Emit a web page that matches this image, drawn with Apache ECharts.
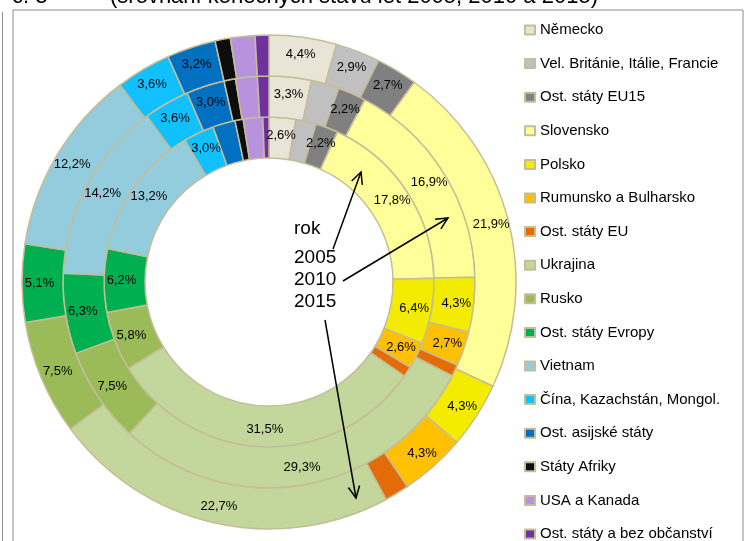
<!DOCTYPE html>
<html>
<head>
<meta charset="utf-8">
<title>Cizinci podle občanství</title>
<script src="https://cdn.jsdelivr.net/npm/echarts@6/dist/echarts.min.js"></script>
<style>
  html, body { margin: 0; padding: 0; background: #fff; }
  #chart { width: 750px; height: 541px; }
</style>
</head>
<body>
<div id="chart"></div>
<script>
const categories = [
  'Německo', 'Vel. Británie, Itálie, Francie', 'Ost. státy EU15', 'Slovensko',
  'Polsko', 'Rumunsko a Bulharsko', 'Ost. státy EU', 'Ukrajina', 'Rusko',
  'Ost. státy Evropy', 'Vietnam', 'Čína, Kazachstán, Mongol.', 'Ost. asijské státy',
  'Státy Afriky', 'USA a Kanada', 'Ost. státy a bez občanství'
]
// podíly v % (konečné stavy)
const values2005 = [2.6, 2.0, 2.2, 17.8, 6.4, 2.6, 1.0, 31.5, 5.8, 6.2, 13.2, 3.0, 2.2, 0.8, 1.9, 0.6]
const values2010 = [3.3, 2.2, 2.2, 16.9, 4.3, 2.7, 0.9, 29.3, 7.5, 6.3, 14.2, 3.6, 3.0, 0.9, 1.7, 0.9]
const values2015 = [4.4, 2.9, 2.7, 21.9, 4.3, 4.3, 1.6, 22.7, 7.5, 5.1, 12.2, 3.6, 3.2, 1.0, 1.6, 0.9]
const years = ['2005', '2010', '2015']

const colors = [
  '#E8E4D6', '#C0C0C0', '#808080', '#FFFF99', '#F4EC00', '#FFC000', '#E36C09',
  '#C3D69B', '#9BBB59', '#00B050', '#93CDDD', '#11C0FF', '#0070C0', '#0D0D0D',
  '#B892DC', '#7030A0'
]

const font = "'Liberation Sans', Arial, sans-serif"
const rings = [[124, 165], [165, 206], [206, 247]]
const center = [269, 282]

function ringSeries(name, values, radius) {
  return {
    name: name,
    type: 'pie',
    center: center,
    radius: radius,
    startAngle: 90,
    clockwise: true,
    avoidLabelOverlap: false,
    silent: true,
    itemStyle: { borderColor: '#C4BD97', borderWidth: 1.5 },
    label: {
      position: 'inside',
      color: '#000',
      fontSize: 13,
      fontFamily: font,
      formatter: p => p.value >= 2 ? p.value.toFixed(1).replace('.', ',') + '%' : ''
    },
    labelLine: { show: false },
    data: categories.map((c, i) => ({ name: c, value: values[i] }))
  }
}

// šipky k popisku let
function arrow(x1, y1, x2, y2) {
  const a = Math.atan2(y2 - y1, x2 - x1)
  const len = 13, spread = 0.45
  const p1 = [x2 - len * Math.cos(a - spread), y2 - len * Math.sin(a - spread)]
  const p2 = [x2 - len * Math.cos(a + spread), y2 - len * Math.sin(a + spread)]
  return [
    { type: 'line', z: 100, shape: { x1: x1, y1: y1, x2: x2, y2: y2 }, style: { stroke: '#000', lineWidth: 1.5 } },
    { type: 'polyline', z: 100, shape: { points: [p1, [x2, y2], p2] }, style: { stroke: '#000', lineWidth: 1.5, fill: null } }
  ]
}

const chart = echarts.init(document.getElementById('chart'))
chart.setOption({
  animation: false,
  color: colors,
  legend: {
    orient: 'vertical',
    left: 524,
    top: 22,
    height: 600,
    padding: 0,
    itemWidth: 10,
    itemHeight: 9,
    itemGap: 17.6,
    icon: 'rect',
    selectedMode: false,
    textStyle: { fontSize: 15, fontFamily: font, color: '#000', lineHeight: 16 },
    data: categories
  },
  graphic: [
    { type: 'rect', shape: { x: 13, y: 10, width: 730, height: 560 }, style: { stroke: '#8C8C8C', fill: null, lineWidth: 1 } },
    { type: 'line', shape: { x1: 2.5, y1: 12, x2: 2.5, y2: 541 }, style: { stroke: '#8C8C8C', lineWidth: 1 } },
    { type: 'text', x: 12, y: 8, style: { text: 'č. 3', font: '22px ' + font, fill: '#000', verticalAlign: 'bottom' } },
    { type: 'text', x: 110, y: 8, style: { text: '(srovnání konečných stavů let 2005, 2010 a 2015)', font: '22px ' + font, fill: '#000', verticalAlign: 'bottom' } },
    { type: 'text', z: 100, x: 294, y: 229, style: { text: 'rok', font: '19px ' + font, fill: '#000', verticalAlign: 'middle' } },
    { type: 'text', z: 100, x: 294, y: 258, style: { text: years[0], font: '19px ' + font, fill: '#000', verticalAlign: 'middle' } },
    { type: 'text', z: 100, x: 294, y: 280, style: { text: years[1], font: '19px ' + font, fill: '#000', verticalAlign: 'middle' } },
    { type: 'text', z: 100, x: 294, y: 302, style: { text: years[2], font: '19px ' + font, fill: '#000', verticalAlign: 'middle' } },
    ...arrow(333, 249, 361, 172),
    ...arrow(343, 281, 448, 218),
    ...arrow(325, 320, 356, 498)
  ],
  series: [
    ringSeries(years[0], values2005, rings[0]),
    ringSeries(years[1], values2010, rings[1]),
    ringSeries(years[2], values2015, rings[2])
  ]
})
</script>
</body>
</html>
